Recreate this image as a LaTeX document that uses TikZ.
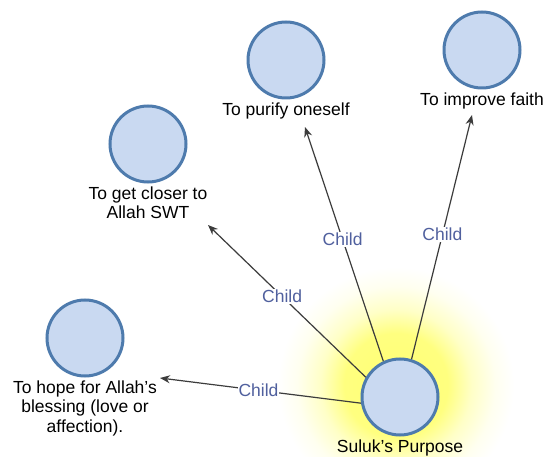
\documentclass[tikz,border=0pt]{standalone}
\usepackage{fontspec}
\setmainfont{Liberation Sans}
\usetikzlibrary{arrows.meta}
\definecolor{bubfill}{HTML}{C9D9F1}
\definecolor{bubdraw}{HTML}{4E7BAD}
\definecolor{childcol}{HTML}{50609E}
\definecolor{arrcol}{HTML}{3C3C3C}
\pgfdeclareradialshading{glow}{\pgfpoint{0bp}{0bp}}{color(0bp)=(yellow!55); color(11bp)=(yellow!50); color(16bp)=(yellow!22); color(21bp)=(yellow!6); color(25bp)=(white)}
\tikzset{
  bubble/.style={circle, minimum size=76pt, inner sep=0pt, fill=bubfill, draw=bubdraw, line width=3pt},
  lbl/.style={anchor=north, inner sep=0pt, align=center, font=\fontsize{17.5}{19.5}\selectfont},
  childlbl/.style={fill=white, inner sep=1pt, text=childcol, font=\fontsize{17.5}{19.5}\selectfont},
  conn/.style={draw=arrcol, line width=1.2pt, -{Stealth[length=10pt,width=8pt]}}
}
\begin{document}
\begin{tikzpicture}[x=1pt,y=-1pt]
\useasboundingbox (0,0) rectangle (544,457);
\fill[white] (0,0) rectangle (544,457);
\shade[shading=glow] (396,385) circle (118);
% bubbles
\node[bubble] (c) at (400,397) {};
\node[bubble] (hope) at (85,338) {};
\node[bubble] (closer) at (148,144) {};
\node[bubble] (purify) at (286,60) {};
\node[bubble] (improve) at (482,50) {};
% labels
\node[lbl] (cL) at ([yshift=-3pt]c.south) {Suluk's Purpose};
\node[lbl] (hopeL) at ([yshift=-3pt]hope.south) {To hope for Allah's\\blessing (love or\\affection).};
\node[lbl] (closerL) at ([yshift=-3pt]closer.south) {To get closer to\\Allah SWT};
\node[lbl] (purifyL) at ([yshift=-3pt]purify.south) {To purify oneself};
\node[lbl] (improveL) at ([yshift=-3pt]improve.south) {To improve faith};
% arrow tips
\coordinate (tipHope) at (160,378);
\coordinate (tipCloser) at (208,225);
\coordinate (tipPurify) at (305,127);
\coordinate (tipImprove) at (472,115);
% connectors
\draw[conn] (c.189) -- node[childlbl, pos=0.51] (ch1) {Child} (tipHope);
\draw[conn] (c.150) -- node[childlbl, pos=0.53] (ch2) {Child} (tipCloser);
\draw[conn] (c.115) -- node[childlbl, pos=0.52] (ch3) {Child} (tipPurify);
\draw[conn] (c.73) -- node[childlbl, pos=0.51] (ch4) {Child} (tipImprove);
\end{tikzpicture}
\end{document}
